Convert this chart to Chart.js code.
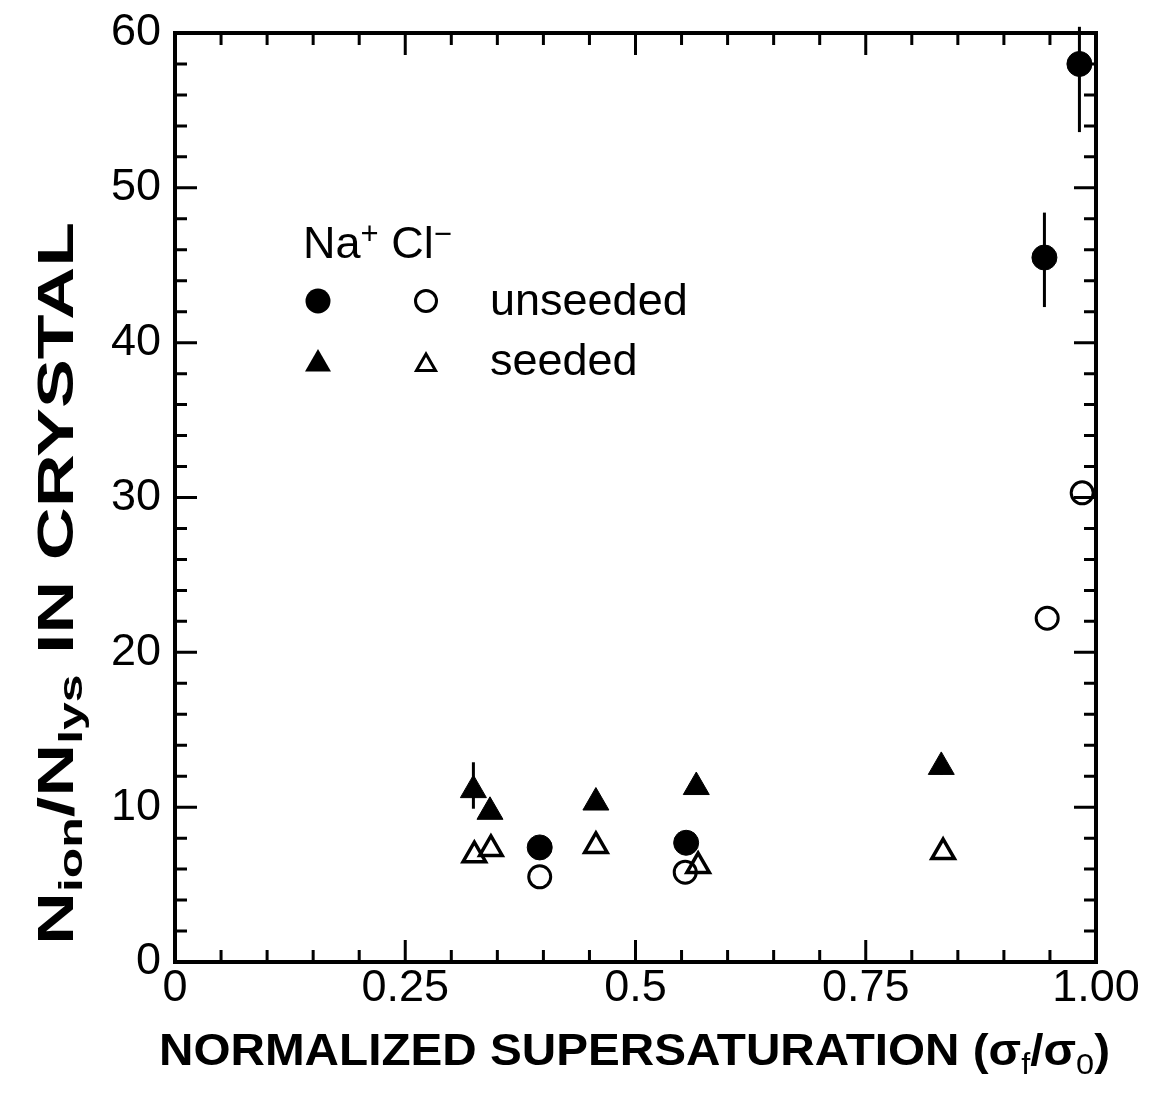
<!DOCTYPE html>
<html>
<head>
<meta charset="utf-8">
<script src="https://cdn.jsdelivr.net/npm/chart.js@4.4.1/dist/chart.umd.min.js"></script>
<style>
  html, body { margin: 0; padding: 0; background: #fff; }
</style>
</head>
<body>
<canvas id="myChart" width="1156" height="1100"></canvas>
<script>
// data
var naUnseededX = [0.396, 0.555, 0.944, 0.982];
var naUnseededY = [7.4, 7.7, 45.5, 58.0];
var naUnseededLo = [null, null, 42.3, 53.6];
var naUnseededHi = [null, null, 48.4, 60.4];

var clUnseededX = [0.396, 0.554, 0.947, 0.985];
var clUnseededY = [5.5, 5.8, 22.2, 30.3];

var naSeededX = [0.324, 0.342, 0.457, 0.566, 0.832];
var naSeededY = [11.1, 9.7, 10.3, 11.3, 12.6];
var naSeededLo = [9.9, null, null, null, 12.1];
var naSeededHi = [12.9, null, null, null, 13.0];

var clSeededX = [0.325, 0.343, 0.457, 0.568, 0.834];
var clSeededY = [6.9, 7.3, 7.5, 6.2, 7.1];

var xMajor = [0, 0.25, 0.5, 0.75, 1.0];
var xMajorLabels = ['0', '0.25', '0.5', '0.75', '1.00'];
var yMajor = [0, 10, 20, 30, 40, 50, 60];

function pts(xs, ys) {
  return xs.map(function (x, i) { return { x: x, y: ys[i] }; });
}

function isMajor(v, list) {
  for (var i = 0; i < list.length; i++) {
    if (Math.abs(v - list[i]) < 1e-6) return i;
  }
  return -1;
}

var FONT = '"Liberation Sans", Arial, Helvetica, sans-serif';

// vertical error bars
var errorBars = {
  id: 'errorBars',
  beforeDatasetsDraw: function (chart) {
    var ctx = chart.ctx, xs = chart.scales.x, ys = chart.scales.y;
    var sets = [[naUnseededX, naUnseededLo, naUnseededHi], [naSeededX, naSeededLo, naSeededHi]];
    ctx.save();
    ctx.strokeStyle = '#000';
    ctx.lineWidth = 3;
    sets.forEach(function (s) {
      s[0].forEach(function (x, i) {
        if (s[1][i] == null) return;
        var px = xs.getPixelForValue(x);
        ctx.beginPath();
        ctx.moveTo(px, ys.getPixelForValue(s[1][i]));
        ctx.lineTo(px, ys.getPixelForValue(s[2][i]));
        ctx.stroke();
      });
    });
    ctx.restore();
  }
};

// box frame, inward ticks, axis titles, legend
var decorations = {
  id: 'decorations',
  afterDraw: function (chart) {
    var ctx = chart.ctx, a = chart.chartArea;
    var xs = chart.scales.x, ys = chart.scales.y;
    ctx.save();
    ctx.strokeStyle = '#000';
    ctx.lineWidth = 3;
    xs.ticks.forEach(function (t) {
      var px = xs.getPixelForValue(t.value);
      var len = isMajor(t.value, xMajor) >= 0 ? 22 : 12;
      ctx.beginPath();
      ctx.moveTo(px, a.bottom); ctx.lineTo(px, a.bottom - len);
      ctx.moveTo(px, a.top); ctx.lineTo(px, a.top + len);
      ctx.stroke();
    });
    ys.ticks.forEach(function (t) {
      var py = ys.getPixelForValue(t.value);
      var len = isMajor(t.value, yMajor) >= 0 ? 22 : 12;
      ctx.beginPath();
      ctx.moveTo(a.left, py); ctx.lineTo(a.left + len, py);
      ctx.moveTo(a.right, py); ctx.lineTo(a.right - len, py);
      ctx.stroke();
    });
    ctx.lineWidth = 4;
    ctx.strokeRect(a.left, a.top, a.right - a.left, a.bottom - a.top);

    ctx.fillStyle = '#000';
    ctx.textBaseline = 'alphabetic';
    ctx.textAlign = 'left';

    // runs of [text, font size, bold, baseline shift]
    function drawRuns(runs, x0, y0, targetW) {
      var w = 0;
      runs.forEach(function (r) {
        ctx.font = (r[2] ? 'bold ' : '') + r[1] + 'px ' + FONT;
        r.w = ctx.measureText(r[0]).width;
        w += r.w;
      });
      var k = targetW ? targetW / w : 1;
      ctx.save();
      ctx.translate(x0, y0);
      ctx.scale(k, 1);
      var x = 0;
      runs.forEach(function (r) {
        ctx.font = (r[2] ? 'bold ' : '') + r[1] + 'px ' + FONT;
        ctx.fillText(r[0], x, r[3]);
        x += r.w;
      });
      ctx.restore();
    }

    // x title
    drawRuns([
      ['NORMALIZED SUPERSATURATION (\u03c3', 44, true, 0],
      ['f', 30, false, 9],
      ['/\u03c3', 44, true, 0],
      ['0', 30, false, 9],
      [')', 44, true, 0]
    ], 159, 1065, 951);

    // y title, rotated
    ctx.save();
    ctx.translate(73, 945);
    ctx.rotate(-Math.PI / 2);
    drawRuns([
      ['N', 50, true, 0],
      ['ion', 34, true, 9],
      ['/N', 50, true, 0],
      ['lys', 34, true, 9],
      [' IN CRYSTAL', 50, true, 0]
    ], 0, 0, 723);
    ctx.restore();

    // legend
    drawRuns([
      ['Na', 45, false, 0], ['+', 31, false, -14], [' Cl', 45, false, 0], ['\u2212', 31, false, -14]
    ], 303, 258, 0);
    ctx.font = '45px ' + FONT;
    ctx.fillText('unseeded', 490, 315);
    ctx.fillText('seeded', 490, 375);

    ctx.lineWidth = 3;
    ctx.beginPath(); ctx.arc(318, 301, 12.5, 0, Math.PI * 2); ctx.fill();
    ctx.beginPath(); ctx.arc(426, 301, 10.5, 0, Math.PI * 2); ctx.stroke();
    function tri(cx, cy, r, fill) {
      ctx.beginPath();
      for (var i = 0; i < 3; i++) {
        var ang = i * 2 * Math.PI / 3;
        var px = cx + Math.sin(ang) * r, py = cy - Math.cos(ang) * r;
        if (i === 0) ctx.moveTo(px, py); else ctx.lineTo(px, py);
      }
      ctx.closePath();
      if (fill) ctx.fill(); else ctx.stroke();
    }
    tri(318, 364, 15, true);
    tri(426, 365, 11, false);
    ctx.restore();
  }
};

var ctx = document.getElementById('myChart').getContext('2d');
var chart = new Chart(ctx, {
  type: 'scatter',
  data: {
    datasets: [
      {
        label: 'Na+ unseeded',
        data: pts(naUnseededX, naUnseededY),
        pointStyle: 'circle', pointRadius: 12.5,
        backgroundColor: '#000', borderColor: '#000', borderWidth: 1
      },
      {
        label: 'Cl- unseeded',
        data: pts(clUnseededX, clUnseededY),
        pointStyle: 'circle', pointRadius: 11,
        backgroundColor: 'rgba(255,255,255,0)', borderColor: '#000', borderWidth: 3
      },
      {
        label: 'Na+ seeded',
        data: pts(naSeededX, naSeededY),
        pointStyle: 'triangle', pointRadius: 15,
        backgroundColor: '#000', borderColor: '#000', borderWidth: 1
      },
      {
        label: 'Cl- seeded',
        data: pts(clSeededX, clSeededY),
        pointStyle: 'triangle', pointRadius: 13,
        backgroundColor: 'rgba(255,255,255,0)', borderColor: '#000', borderWidth: 3.5
      }
    ]
  },
  options: {
    responsive: false,
    animation: false,
    events: [],
    layout: { padding: { left: 0, top: 33, right: 60, bottom: 0 } },
    plugins: { legend: { display: false }, tooltip: { enabled: false } },
    scales: {
      x: {
        type: 'linear', min: 0, max: 1,
        afterFit: function (s) { s.height = 138; s.paddingLeft = 0; s.paddingRight = 0; },
        grid: { display: false, drawTicks: false },
        border: { display: false },
        ticks: {
          stepSize: 0.05, autoSkip: false, maxRotation: 0, padding: 0,
          color: '#000', font: { family: FONT, size: 45 },
          callback: function (v) {
            var i = isMajor(v, xMajor);
            return i >= 0 ? xMajorLabels[i] : '';
          }
        }
      },
      y: {
        type: 'linear', min: 0, max: 60,
        afterFit: function (s) { s.width = 175; s.paddingTop = 0; s.paddingBottom = 0; },
        grid: { display: false, drawTicks: false },
        border: { display: false },
        ticks: {
          stepSize: 2, autoSkip: false, padding: 14,
          color: '#000', font: { family: FONT, size: 45 },
          callback: function (v) {
            return isMajor(v, yMajor) >= 0 ? String(v) : '';
          }
        }
      }
    }
  },
  plugins: [errorBars, decorations]
});
</script>
</body>
</html>
